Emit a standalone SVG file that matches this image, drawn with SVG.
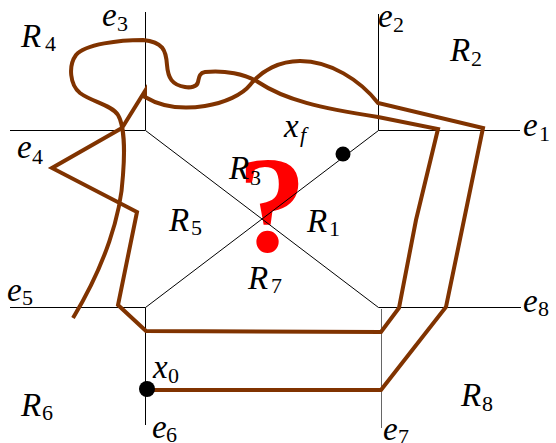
<svg xmlns="http://www.w3.org/2000/svg" width="556" height="443" viewBox="0 0 556 443">
<style>
.ax{stroke:#000;stroke-width:1;fill:none}
.tr{stroke:#803300;stroke-width:4;fill:none;stroke-linejoin:miter;stroke-linecap:butt}
.m{font-family:"Liberation Serif",serif;font-style:italic;font-size:33px;fill:#000}
.s{font-style:normal;font-size:22px}
.si{font-style:italic;font-size:22px}
.q{font-family:"Liberation Serif",serif;font-weight:bold;font-size:138px;fill:#ff0000}
</style>
<rect width="556" height="443" fill="#fff"/>
<g id="question"><text class="q" x="272" y="251" text-anchor="middle">?</text></g>
<g id="connectors">
<g id="axes">
<line class="ax" x1="145.5" y1="12" x2="145.5" y2="130"/>
<line class="ax" x1="10" y1="130.5" x2="145.5" y2="130.5"/>
<line class="ax" x1="378.5" y1="14" x2="378.5" y2="130.5"/>
<line class="ax" x1="378.5" y1="130.5" x2="520" y2="130.5"/>
<line class="ax" x1="10" y1="307.5" x2="145.5" y2="307.5"/>
<line class="ax" x1="145.5" y1="307.5" x2="145.5" y2="425"/>
<line class="ax" x1="378.5" y1="307.5" x2="521" y2="307.5"/>
<line class="ax" x1="381.5" y1="309" x2="381.5" y2="428" style="stroke:#666"/>
<line class="ax" x1="145.5" y1="130.5" x2="378.5" y2="307.5"/>
<line class="ax" x1="145.5" y1="307.5" x2="378.5" y2="130.5"/>
</g>
<path id="trajectory" class="tr" d="M147,390 L381,390 L446,307 L483,128 L378,103 C360,80 330,61 300,61 C280,61 262,70 250,85 C235,104 180,118 145,97 L145,91 L122,128 L52,168 L137,212 L118,305 L146,331 L381,332 L399,308 L416,220 L438,129 L378,117 C320,108 285,100 258,82 C245,74 225,70 205,72 C199,73 199,78 198,82 C197,87 190,88 185,87 C172,85 168,78 167,65 C166,50 163,42 143,40 C120,40 85,44 76,55 C68,66 70,85 80,93 C92,102 112,105 118,115 C124,125 125,150 123,175 C121,215 105,265 73,318"/>
</g>
<g id="x_f"><circle cx="343" cy="154" r="7.5" fill="#000"/><text class="m" x="284" y="137">x<tspan class="si" x="300" y="142">f</tspan></text></g>
<g id="x_0"><circle cx="147" cy="389" r="8" fill="#000"/><text class="m" x="153" y="378">x<tspan class="s" x="168" y="383">0</tspan></text></g>
<g id="labels">
<text class="m" x="21" y="47">R<tspan class="s" x="45" y="51">4</tspan></text>
<text class="m" x="102" y="26">e<tspan class="s" x="117" y="31">3</tspan></text>
<text class="m" x="378" y="27">e<tspan class="s" x="393" y="32">2</tspan></text>
<text class="m" x="450" y="61">R<tspan class="s" x="471" y="66">2</tspan></text>
<text class="m" x="523" y="136">e<tspan class="s" x="539" y="141">1</tspan></text>
<text class="m" x="17" y="158">e<tspan class="s" x="32" y="164">4</tspan></text>
<text class="m" x="229" y="179">R<tspan class="s" x="250" y="185">3</tspan></text>
<text class="m" x="169" y="231">R<tspan class="s" x="191" y="235">5</tspan></text>
<text class="m" x="307" y="232">R<tspan class="s" x="329" y="236">1</tspan></text>
<text class="m" x="248" y="289">R<tspan class="s" x="271" y="293">7</tspan></text>
<text class="m" x="7" y="301">e<tspan class="s" x="22" y="305">5</tspan></text>
<text class="m" x="523" y="312">e<tspan class="s" x="538" y="316">8</tspan></text>
<text class="m" x="21" y="416">R<tspan class="s" x="42" y="420">6</tspan></text>
<text class="m" x="152" y="438">e<tspan class="s" x="166" y="442">6</tspan></text>
<text class="m" x="383" y="440">e<tspan class="s" x="398" y="444">7</tspan></text>
<text class="m" x="461" y="406">R<tspan class="s" x="482" y="411">8</tspan></text>
</g>
</svg>
